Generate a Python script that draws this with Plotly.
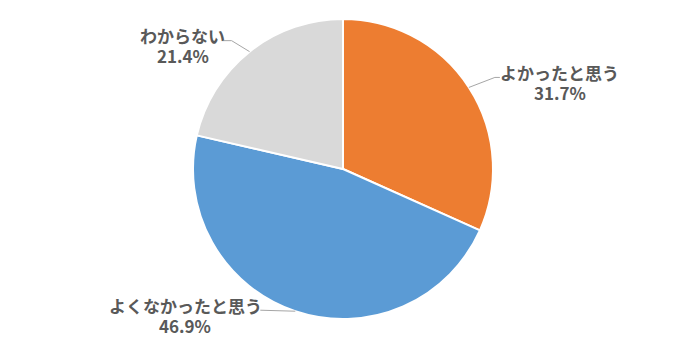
import math
import plotly.graph_objects as go

labels = ["よかったと思う", "よくなかったと思う", "わからない"]
values = [31.7, 46.9, 21.4]
colors = ["#ED7D31", "#5B9BD5", "#D9D9D9"]

W, H = 682, 346
cx, cy, r = 343, 169, 150

fig = go.Figure(go.Pie(
    labels=labels, values=values, sort=False, direction="clockwise", rotation=0,
    marker=dict(colors=colors, line=dict(color="white", width=2)),
    textinfo="none", hoverinfo="label+percent", showlegend=False,
    domain=dict(x=[(cx - r) / W, (cx + r) / W], y=[1 - (cy + r) / H, 1 - (cy - r) / H]),
))

# label layout: (elbow dx, elbow dy, horizontal end dx, text-centre offset from line end)
layout_cfg = [
    (26, -10, 5, 60),
    (-35, -1, 0, -75),
    (-18, -11, -9, -40),
]

total = sum(values)
cum = 0
shapes, annotations = [], []
font = dict(family="Noto Sans CJK JP", size=17, color="#595959")
for lab, v, (edx, edy, hdx, tdx) in zip(labels, values, layout_cfg):
    mid = (cum + v / 2) / total * 2 * math.pi
    cum += v
    px = cx + r * math.sin(mid)
    py = cy - r * math.cos(mid)
    ex, ey = px + edx, py + edy
    hx = ex + hdx
    shapes.append(dict(type="path", xref="paper", yref="paper",
                       path=f"M {px/W} {1-py/H} L {ex/W} {1-ey/H} L {hx/W} {1-ey/H}",
                       line=dict(color="#A6A6A6", width=1)))
    tx = hx + tdx
    for txt, dy in ((lab, -5), (f"{v:.1f}%", 15)):
        annotations.append(dict(
            x=tx / W, y=1 - (ey + dy) / H, xref="paper", yref="paper",
            text=f"<b>{txt}</b>", showarrow=False,
            xanchor="center", yanchor="middle", font=font,
        ))

fig.update_layout(width=W, height=H, margin=dict(l=0, r=0, t=0, b=0),
                  paper_bgcolor="white", plot_bgcolor="white",
                  shapes=shapes, annotations=annotations)
fig.write_html("out.html")
